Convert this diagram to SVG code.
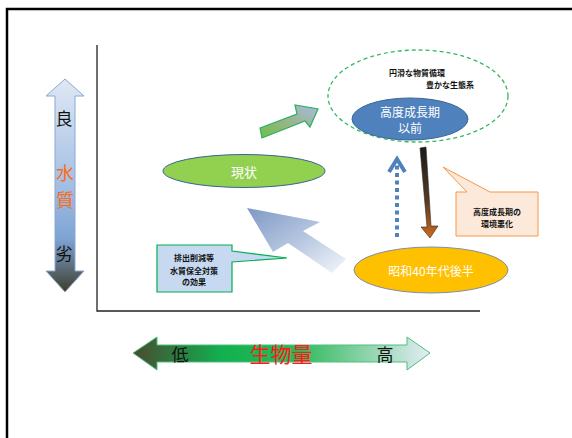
<svg xmlns="http://www.w3.org/2000/svg" width="572" height="438" viewBox="0 0 572 438">
<defs>
<style>
text{font-family:"Noto Sans CJK JP","Noto Sans",sans-serif;text-anchor:middle;dominant-baseline:central}
.wt{fill:#ffffff;font-size:12px}
.sm{fill:#111;font-size:8px;font-weight:bold}
.ax{fill:#111;font-size:17px}
.wq{fill:#ff6a13;font-size:18px}
</style>
<linearGradient id="gv" x1="0" y1="0" x2="0" y2="1">
<stop offset="0" stop-color="#dfe8f4"/>
<stop offset="0.45" stop-color="#a9c3e6"/>
<stop offset="0.75" stop-color="#7ea4d4"/>
<stop offset="1" stop-color="#3e3e2c"/>
</linearGradient>
<linearGradient id="gh" x1="0" y1="0" x2="1" y2="0">
<stop offset="0" stop-color="#4a4a30"/>
<stop offset="0.3" stop-color="#12b050"/>
<stop offset="0.55" stop-color="#2db85a"/>
<stop offset="1" stop-color="#e4ecf4"/>
</linearGradient>
<linearGradient id="gg" x1="0" y1="1" x2="1" y2="0">
<stop offset="0" stop-color="#6fbf4a"/>
<stop offset="0.5" stop-color="#9ab48c"/>
<stop offset="1" stop-color="#a7bde0"/>
</linearGradient>
<linearGradient id="gd" x1="0" y1="0" x2="0" y2="1">
<stop offset="0" stop-color="#1a1a1a"/>
<stop offset="0.6" stop-color="#5a3a20"/>
<stop offset="1" stop-color="#d06a1c"/>
</linearGradient>
<linearGradient id="gb" x1="0" y1="0" x2="1" y2="1">
<stop offset="0" stop-color="#7f98c4"/>
<stop offset="0.5" stop-color="#b4c5e0"/>
<stop offset="1" stop-color="#f4f7fb"/>
</linearGradient>
</defs>

<g id="frame" fill="none" stroke="#000" stroke-width="2.5">
<path d="M7,438 V9 H572"/>
</g>

<g id="axes" stroke="#222" stroke-width="1.3" fill="none">
<path d="M97,45 V311 H480"/>
</g>

<g id="quality-axis">
<polygon points="65,79 84,96 75,96 75,271 84,271 65,292 46,271 55,271 55,96 46,96" fill="url(#gv)" stroke="#8aa8d0" stroke-width="1"/>
<text class="ax" x="64" y="117">良</text>
<text class="wq" x="65" y="172">水</text>
<text class="wq" x="65" y="199">質</text>
<text class="ax" x="64" y="252">劣</text>
</g>

<g id="biomass-axis">
<polygon points="133,353 157,337 157,345 407,345 407,337 430,353 407,370 407,362 157,362 157,370" fill="url(#gh)" stroke="#4cc080" stroke-width="1"/>
<text class="ax" x="180" y="353">低</text>
<text x="281" y="353" style="fill:#ff1a1a;font-size:21px">生物量</text>
<text class="ax" x="385" y="353">高</text>
</g>

<g id="connectors">
<polygon points="260,128 297,114 295,105 318,109 310,127 305,121 262,138" fill="url(#gg)" stroke="#2cb060" stroke-width="1.2"/>
<polygon points="420,148 426,147 431,226 438,226 430,238 421,227 427,227" fill="url(#gd)" stroke="#2a2a2a" stroke-width="0.6"/>
<path d="M397,237 V162" fill="none" stroke="#4f81bd" stroke-width="4" stroke-dasharray="4,3.5"/>
<path d="M389,172 L397,159 L405,172" fill="none" stroke="#4f81bd" stroke-width="4"/>
<polygon points="247,208 320,222 303,231 346,259 332,273 288,243 273,252" fill="url(#gb)"/>
</g>

<g id="node-goal">
<ellipse cx="418" cy="96" rx="90" ry="46" fill="none" stroke="#33b860" stroke-width="1.3" stroke-dasharray="4,3"/>
<text class="sm" x="417" y="72">円滑な物質循環</text>
<text class="sm" x="450" y="84">豊かな生態系</text>
</g>

<g id="node-pre">
<ellipse cx="410" cy="119" rx="58" ry="21" fill="#4f81bd" stroke="#3a6496" stroke-width="1"/>
<text class="wt" x="410" y="111">高度成長期</text>
<text class="wt" x="410" y="127">以前</text>
</g>

<g id="node-now">
<ellipse cx="244" cy="171" rx="81" ry="16.5" fill="#92d050" stroke="#3a6496" stroke-width="1"/>
<text class="wt" x="244" y="171" style="font-size:13px">現状</text>
</g>

<g id="node-s40">
<ellipse cx="431" cy="270" rx="77" ry="23" fill="#ffc000" stroke="#7f8fa6" stroke-width="1"/>
<text class="wt" x="431" y="270">昭和40年代後半</text>
</g>

<g id="callout-worse">
<path d="M456,192 H467 L443,167 L490,192 H538 V236 H456 Z" fill="#fde9d9" stroke="#f79646" stroke-width="1"/>
<text class="sm" x="497" y="211">高度成長期の</text>
<text class="sm" x="497" y="223">環境悪化</text>
</g>

<g id="callout-measure">
<path d="M157,245 H232 V251 L287,258 L232,262 V292 H157 Z" fill="#c6d9f1" stroke="#00b050" stroke-width="1.2"/>
<text class="sm" x="194" y="257">排出削減等</text>
<text class="sm" x="194" y="270">水質保全対策</text>
<text class="sm" x="194" y="281">の効果</text>
</g>
</svg>
